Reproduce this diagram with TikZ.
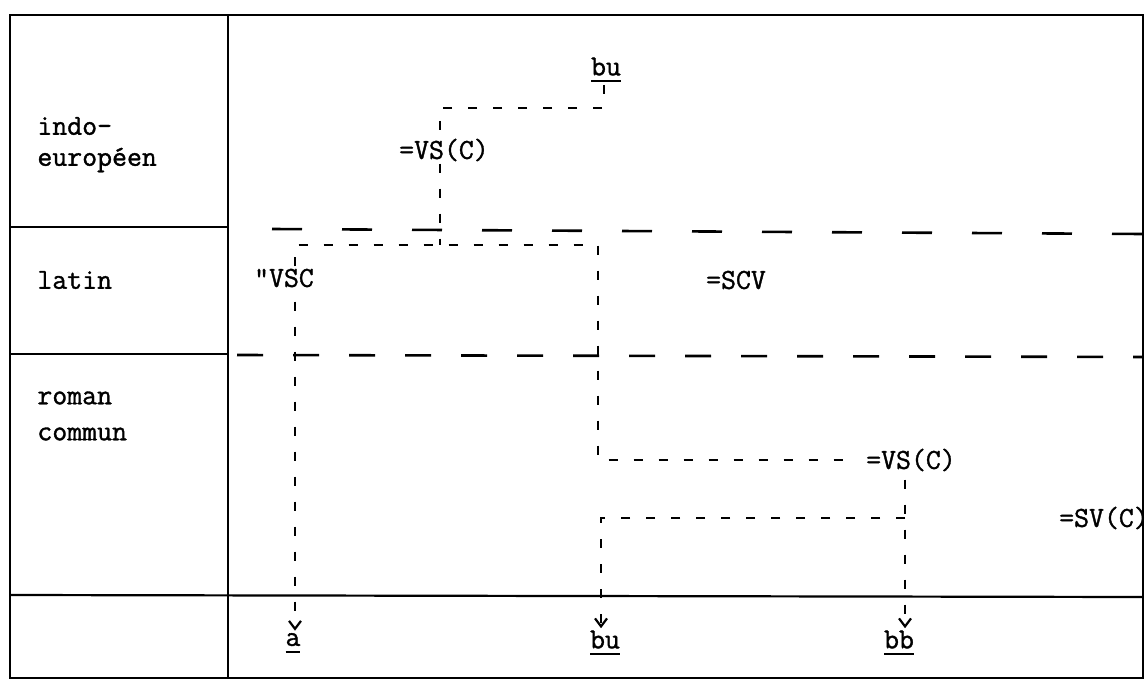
\documentclass[tikz,border=0pt]{standalone}
\usepackage{fontspec}
\newfontfamily\tw{Latin Modern Mono}[FakeBold=1.2]
\usetikzlibrary{arrows.meta}
\newcommand\uln[1]{\setbox0\hbox{#1}\rlap{\copy0}\rule[-3.5pt]{\wd0}{1pt}}
\begin{document}
\begin{tikzpicture}[x=0.5pt,y=-0.5pt,
  frame/.style={line width=1.1pt},
  rowsep/.style={line width=1.3pt, dash pattern=on 15pt off 20pt},
  rowsepb/.style={line width=1.3pt, dash pattern=on 13pt off 15pt},
  conn/.style={line width=1.4pt, dash pattern=on 4.5pt off 8pt},
  arr/.style={conn, -{Straight Barb[length=4pt,width=6pt,line width=1.1pt]}},
  lab/.style={font=\tw\fontsize{14.5}{16}\selectfont, inner sep=1pt},
  side/.style={lab, anchor=west}
]
\useasboundingbox[fill=white] (0,0) rectangle (1146,680);
% table frame
\draw[frame] (10,15) rectangle (1143,678);
\draw[frame] (228,15) -- (228,678);
\draw[frame] (10,227) -- (228,227);
\draw[frame] (10,354) -- (228,354);
\draw[frame] (10,595) -- (1143,597);
\draw[rowsep] (272,229) -- (1143,234);
\draw[rowsepb] (237,355) -- (1143,357);
% row labels
\node[side] (ie1) at (35,126) {indo-};
\node[side] (ie2) at (35,160) {européen};
\node[side] (lat) at (35,280) {latin};
\node[side] (rom1) at (35,398) {roman};
\node[side] (rom2) at (35,434) {commun};
% texts
\node[lab] (bu0) at (606,70) {\uln{bu}};
\node[lab] (vs1) at (444,150) {=VS(C)};
\node[lab] (vsc) at (284,278) {"VSC};
\node[lab] (scv) at (736,280) {=SCV};
\node[lab] (vs2) at (911,460) {=VS(C)};
\node[lab] (svc) at (1104,518) {=SV(C)};
\node[lab] (a) at (293,643) {\uln{a}};
\node[lab] (bu1) at (605,643) {\uln{bu}};
\node[lab] (bb) at (899,643) {\uln{bb}};
% connectors
\coordinate (c1) at (604,108);
\coordinate (c2) at (440,108);
\coordinate (c3) at (440,245);
\draw[conn] (bu0.south -| c1) -- (c1) -- (c2) -- (c2 |- vs1.north);
\draw[conn] (vs1.south -| c2) -- (c3);
\coordinate (d1) at (295,245);
\coordinate (d2) at (598,245);
\coordinate (e1) at (598,460);
\draw[conn, shorten >=6pt] (d1 |- vsc.north) -- (d1) -- (d2) -- (e1) -- (vs2.west);
\draw[arr, shorten <=6pt] (vsc.south -| d1) -- (a.north -| d1);
\coordinate (f1) at (905,518);
\coordinate (f2) at (601,518);
\draw[arr, shorten <=3pt] (vs2.south -| f1) -- (bb.north -| f1);
\draw[arr] (f1) -- (f2) -- (bu1.north -| f2);
\end{tikzpicture}
\end{document}
